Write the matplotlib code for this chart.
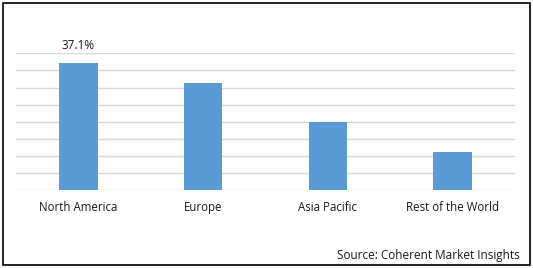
import matplotlib
matplotlib.use("Agg")
import matplotlib.pyplot as plt
from matplotlib.patches import Rectangle

# Market share by region (%)
regions = ["North America", "Europe", "Asia Pacific", "Rest of the World"]
share = [37.1, 31.3, 19.9, 11.2]
labels = ["37.1%", "", "", ""]

plt.rcParams['font.family'] = ['Open Sans', 'DejaVu Sans']

fig = plt.figure(figsize=(5.33, 2.68), dpi=100)
ax = fig.add_axes([16 / 533, 77.7 / 268, 499 / 533, 137 / 268])

x = range(len(regions))
bars = ax.bar(x, share, width=0.31, color="#5b9bd5", zorder=3)
for b, lab in zip(bars, labels):
    if lab:
        ax.text(b.get_x() + b.get_width() / 2, b.get_height() + 3.3, lab,
                ha="center", va="bottom", fontsize=8.5, color="#1a1a1a")

ax.set_xlim(-0.5, len(regions) - 0.5)
ax.set_ylim(0, 40)
ax.set_yticks(range(0, 41, 5))
ax.set_yticklabels([])
ax.set_xticks(list(x))
ax.set_xticklabels(regions, fontsize=8.3, color="#1a1a1a")
ax.tick_params(length=0, pad=8)
ax.grid(axis="y", color="#d9d9d9", linewidth=1, zorder=0)
for s in ax.spines.values():
    s.set_visible(False)

fig.text(520 / 533, 1 - 255 / 268, "Source: Coherent Market Insights",
         ha="right", va="center", fontsize=8.5, color="#1a1a1a")

fig.patches.append(Rectangle((3 / 533, 3 / 268), 527 / 533, 262 / 268,
                             transform=fig.transFigure, fill=False,
                             edgecolor="black", linewidth=1.2))

fig.savefig("out.png", dpi=100)
